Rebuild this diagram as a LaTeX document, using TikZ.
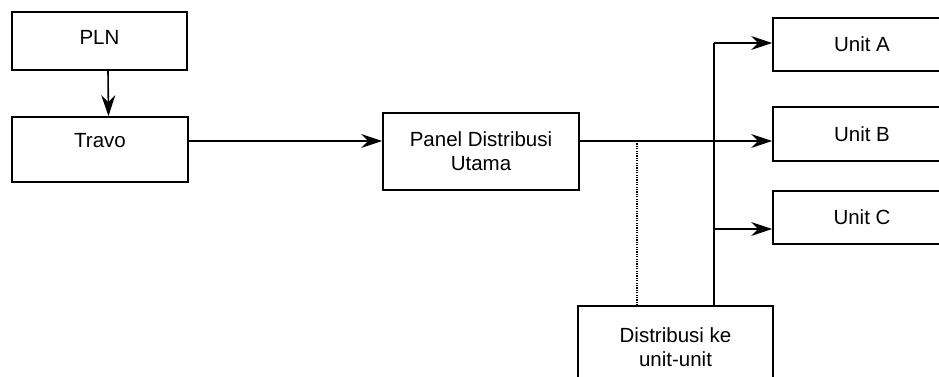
\documentclass[tikz,border=0pt]{standalone}
\usepackage{fontspec}
\setmainfont{Liberation Sans}
\usetikzlibrary{arrows.meta}
\begin{document}
\begin{tikzpicture}[x=1pt,y=-1pt,
  box/.style={draw, line width=1.7pt, rectangle, inner sep=0pt, align=center,
    font=\fontsize{20.5}{24}\selectfont},
  conn/.style={line width=1.6pt},
  arr/.style={conn, -{Stealth[length=21pt,width=14pt,inset=7pt]}},
  dots/.style={line width=1.5pt, dash pattern=on 1.2pt off 1.2pt}]
\useasboundingbox (0,0) rectangle (939,377);
\clip (0,0) rectangle (939,377);
\fill[white] (0,0) rectangle (939,377);

\node[box, minimum width=175, minimum height=58,
  label={[font=\fontsize{20.5}{24}\selectfont, yshift=4]center:PLN}] (pln) at (99.5,41) {};
\node[box, minimum width=176, minimum height=65,
  label={[font=\fontsize{20.5}{24}\selectfont, yshift=9]center:Travo}] (travo) at (100,149.5) {};
\node[box, minimum width=196, minimum height=77] (panel) at (481,151.5) {Panel Distribusi\\Utama};
\node[box, minimum width=178, minimum height=53] (ua) at (862,44.5) {Unit A};
\node[box, minimum width=178, minimum height=54] (ub) at (862,134) {Unit B};
\node[box, minimum width=178, minimum height=53] (uc) at (862,217.5) {Unit C};
\node[box, minimum width=195, minimum height=90,
  label={[font=\fontsize{20.5}{24}\selectfont, align=center, yshift=4]center:Distribusi ke\\unit-unit}] (dist) at (675.5,351) {};

\coordinate (bus) at (714,0);
\coordinate (tap) at (637,0);

\draw[arr] ([xshift=8.5]pln.south) -- ([xshift=8.5]travo.north);
\draw[arr] ([yshift=8.5]travo.east) -- ([yshift=8.5]travo.east -| panel.west);
\draw[arr] ([yshift=10.5]panel.east) -- ([yshift=10.5]panel.east -| ub.west);
\draw[conn] (dist.north -| bus) -- ([yshift=1.5]ua.west -| bus);
\draw[arr] ([yshift=1.5]ua.west -| bus) -- ([yshift=1.5]ua.west);
\draw[arr] ([yshift=-11.5]uc.west -| bus) -- ([yshift=-11.5]uc.west);
\draw[dots] ([yshift=10.5]panel.east -| tap) -- (dist.north -| tap);
\end{tikzpicture}
\end{document}
